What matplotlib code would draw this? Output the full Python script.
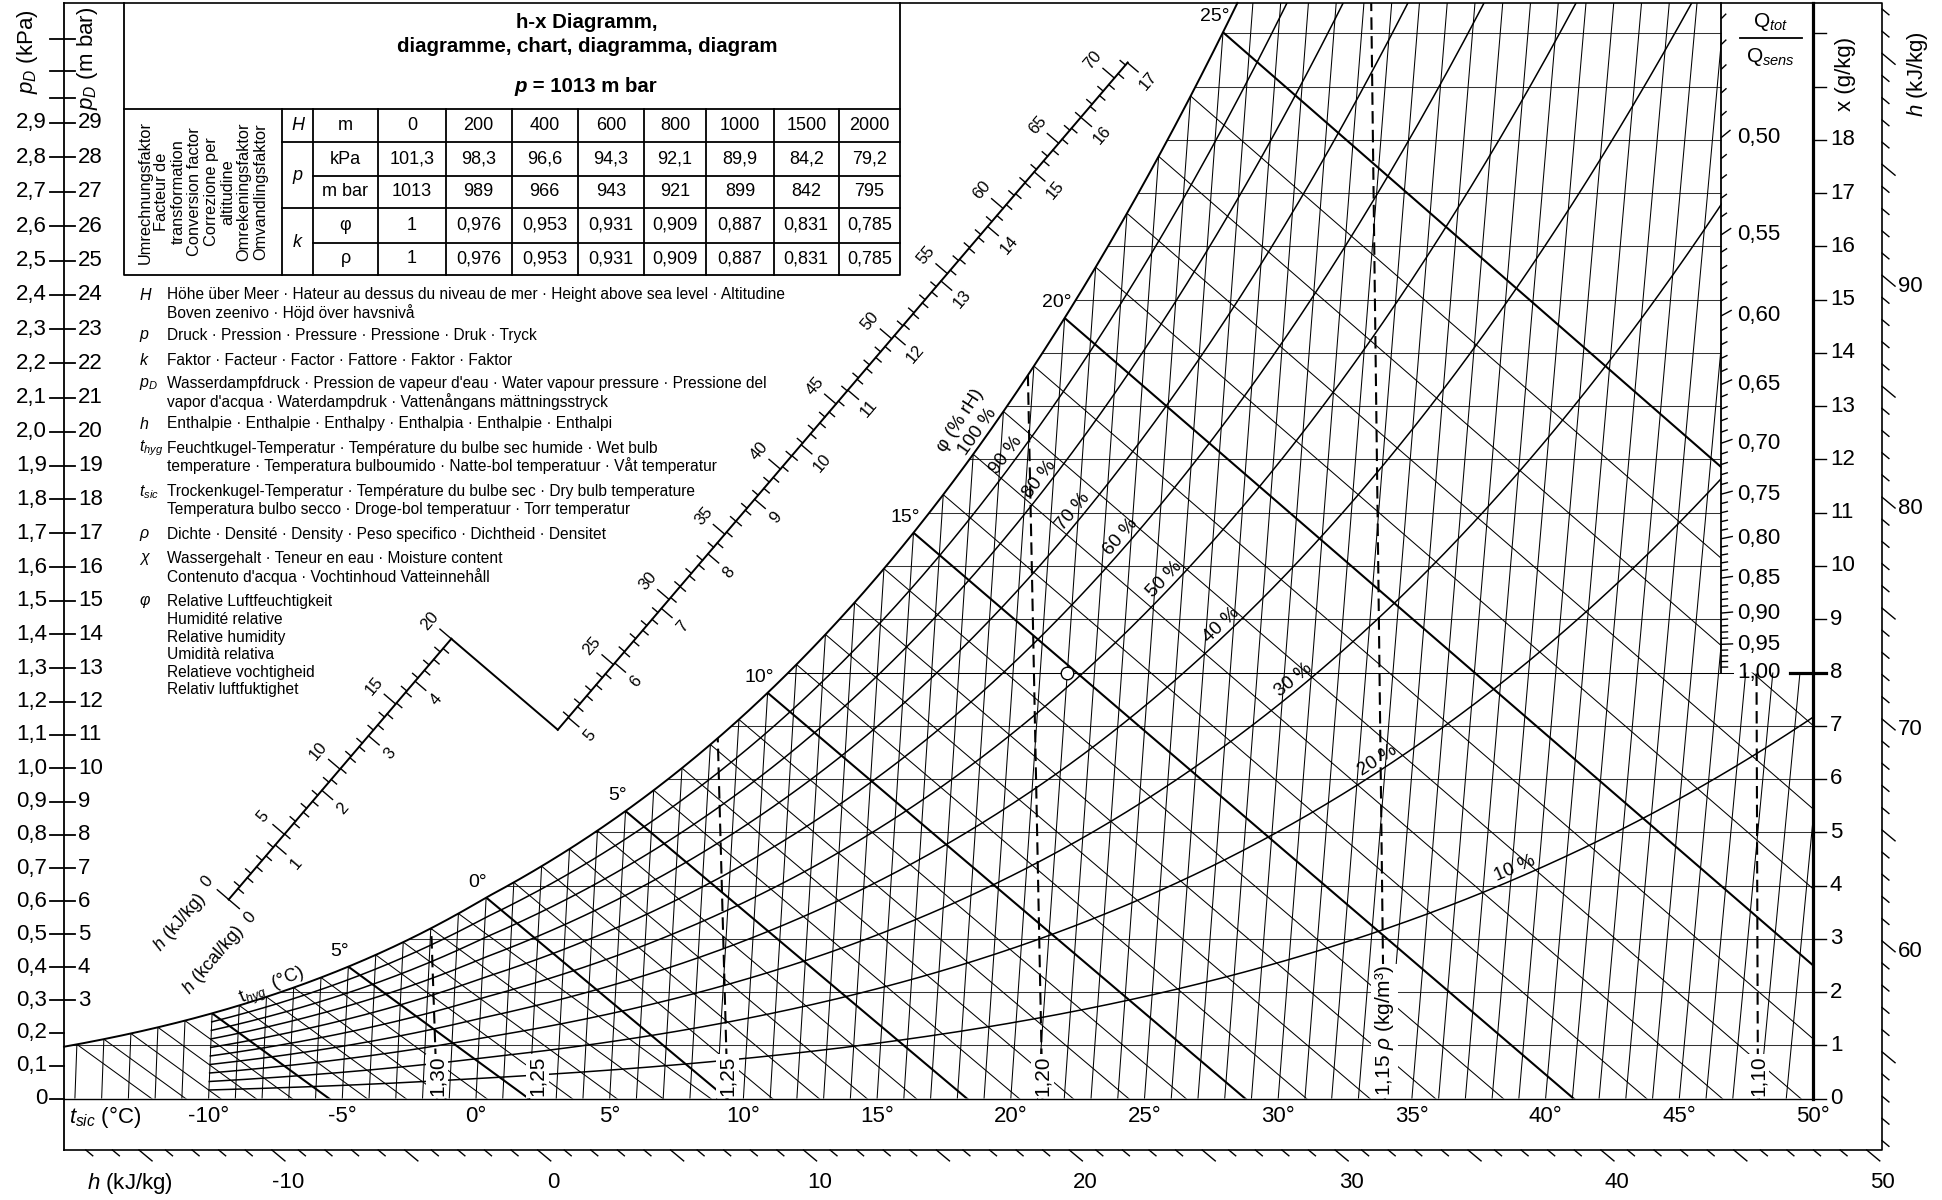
import numpy as np
import matplotlib
matplotlib.use("Agg")
import matplotlib.pyplot as plt
from matplotlib.patches import Polygon
from matplotlib import font_manager


def font_ok(name):
    try:
        font_manager.findfont(font_manager.FontProperties(family=name),
                              fallback_to_default=False)
        return True
    except Exception:
        return False


SANS = "Liberation Sans" if font_ok("Liberation Sans") else "DejaVu Sans"
NARROW = "Liberation Sans Narrow" if font_ok("Liberation Sans Narrow") else SANS

plt.rcParams["font.family"] = [SANS, "DejaVu Sans"]
plt.rcParams["mathtext.fontset"] = "custom"
plt.rcParams["mathtext.rm"] = SANS
plt.rcParams["mathtext.it"] = SANS + ":italic"
plt.rcParams["mathtext.bf"] = SANS + ":bold"

# ---------------- values ----------------
alt_m = ["0", "200", "400", "600", "800", "1000", "1500", "2000"]
alt_p_kpa = ["101,3", "98,3", "96,6", "94,3", "92,1", "89,9", "84,2", "79,2"]
alt_p_mbar = ["1013", "989", "966", "943", "921", "899", "842", "795"]
alt_k_phi = ["1", "0,976", "0,953", "0,931", "0,909", "0,887", "0,831", "0,785"]
alt_k_rho = ["1", "0,976", "0,953", "0,931", "0,909", "0,887", "0,831", "0,785"]

t_dry_lines = list(range(-15, 51))
t_dry_labels = [-10, -5, 0, 5, 10, 15, 20, 25, 30, 35, 40, 45, 50]
t_wet_lines = list(range(-15, 26))
t_wet_labels = [-5, 0, 5, 10, 15, 20, 25]
t_wet_texts = ["5°", "0°", "5°", "10°", "15°", "20°", "25°"]
rh_levels = [10, 20, 30, 40, 50, 60, 70, 80, 90]
rh_label_levels = [10, 20, 30, 40, 50, 60, 70, 80, 90, 100]
rh_label_t = [38.3, 32.9, 29.6, 26.8, 24.6, 22.9, 21.1, 19.8, 18.5, 17.4]
rho_levels = [1.30, 1.25, 1.20, 1.15, 1.10]
rho_texts = ["1,30", "1,25", "1,20", "1,15 $\\rho$ (kg/m³)", "1,10"]
rho_extra_text, rho_extra_X = "1,25", 2.3
x_grid = list(range(1, 21))
x_labels = list(range(0, 19))
x_ticks_extra = [19, 20]
pd_kpa = [round(0.1 * i, 1) for i in range(0, 30)]
pd_extra_ticks = [2.97, 3.05, 3.14]
h_right_ticks = list(range(51, 103))
h_right_labels = [60, 70, 80, 90]
h_bottom_ticks = list(range(-17, 51))
h_bottom_labels = [-10, 0, 10, 20, 30, 40, 50]
q_ratios = [round(0.45 + 0.01 * i, 2) for i in range(0, 56)]
q_labels = [0.50, 0.55, 0.60, 0.65, 0.70, 0.75, 0.80, 0.85, 0.90, 0.95, 1.00]
q_ref = (22.1, 8.0)
Q_K = 10.05
nomo_kj_labels = [0, 5, 10, 15, 20, 25, 30, 35, 40, 45, 50, 55, 60, 65, 70]
nomo_kcal_labels = list(range(0, 18))

legend_rows = [
    ("$H$", ["Höhe über Meer · Hateur au dessus du niveau de mer · Height above sea level · Altitudine",
             "Boven zeenivo · Höjd över havsnivå"], 294.8),
    ("$p$", ["Druck · Pression · Pressure · Pressione · Druk · Tryck"], 335.6),
    ("$k$", ["Faktor · Facteur · Factor · Fattore · Faktor · Faktor"], 360.4),
    ("$p_D$", ["Wasserdampfdruck · Pression de vapeur d'eau · Water vapour pressure · Pressione del",
               "vapor d'acqua · Waterdampdruk · Vattenångans mättningsstryck"], 383.9),
    ("$h$", ["Enthalpie · Enthalpie · Enthalpy · Enthalpia · Enthalpie · Enthalpi"], 423.6),
    ("$t_{hyg}$", ["Feuchtkugel-Temperatur · Température du bulbe sec humide · Wet bulb",
                   "temperature · Temperatura bulboumido · Natte-bol temperatuur · Våt temperatur"], 448.3),
    ("$t_{sic}$", ["Trockenkugel-Temperatur · Température du bulbe sec · Dry bulb temperature",
                   "Temperatura bulbo secco · Droge-bol temperatuur · Torr temperatur"], 491.7),
    ("$\\rho$", ["Dichte · Densité · Density · Peso specifico · Dichtheid · Densitet"], 535.0),
    ("$\\chi$", ["Wassergehalt · Teneur en eau · Moisture content",
                 "Contenuto d'acqua · Vochtinhoud Vatteinnehåll"], 558.6),
    ("$\\varphi$", ["Relative Luftfeuchtigkeit", "Humidité relative", "Relative humidity",
                    "Umidità relativa", "Relatieve vochtigheid", "Relativ luftfuktighet"], 601.9),
]
factor_title = ("Umrechnungsfaktor\nFacteur de\ntransformation\nConversion factor\n"
                "Correzione per\naltitudine\nOmrekeningsfaktor\nOmvandlingsfaktor")

# ---------------- psychrometrics ----------------
P_ATM = 101325.0
A_OBL = 2.4  # slope used for the oblique abscissa


def p_sat(t):
    t = np.asarray(t, dtype=float)
    water = 611.2 * np.exp(17.62 * t / (243.12 + t))
    ice = 611.2 * np.exp(22.46 * t / (272.62 + t))
    return np.where(t >= 0, water, ice)


def x_moist(t, phi=1.0):
    ps = phi * p_sat(t)
    return 622.0 * ps / (P_ATM - ps)


def X_obl(t, x):
    h = 1.006 * t + x * (2501 + 1.86 * t) / 1000.0
    return (h - A_OBL * x) / 1.006


def wet_bulb(tw):
    xs = x_moist(tw) / 1000.0
    t = np.linspace(tw, tw + 70, 300)
    if tw >= 0:
        x = ((2501 - 2.326 * tw) * xs - 1.006 * (t - tw)) / (2501 + 1.86 * t - 4.186 * tw)
    else:
        x = ((2830 - 0.24 * tw) * xs - 1.006 * (t - tw)) / (2830 + 1.86 * t - 2.1 * tw)
    x = x * 1000.0
    return X_obl(t, x), x


# ---------------- layout (pixels of the 1942x1200 picture) ----------------
W, H = 1942, 1200
X0_PX, SX = 476.0, 26.74
Y0_PX, SY = 1098.5, 53.25
X_LEFT = (64 - X0_PX) / SX
X_RIGHT = (1882 - X0_PX) / SX
X_AXIS = 50.0
X_Q = (1721.5 - X0_PX) / SX
X_TOP = (Y0_PX - 3) / SY
X_BOT = (Y0_PX - 1150) / SY

fig = plt.figure(figsize=(W / 100, H / 100), dpi=100)
ax = fig.add_axes([0, 0, 1, 1])
ax.set_xlim(-X0_PX / SX, (W - X0_PX) / SX)
ax.set_ylim((Y0_PX - H) / SY, Y0_PX / SY)
ax.axis("off")
ax2 = fig.add_axes([0, 0, 1, 1], facecolor="none")
ax2.set_xlim(0, W)
ax2.set_ylim(H, 0)
ax2.axis("off")

K = "black"
THIN = 0.75

# saturation curve and chart region
t_f = np.linspace(-17, 27, 3000)
xs_f = x_moist(t_f)
Xs_f = X_obl(t_f, xs_f)
x_left_sat = np.interp(X_LEFT, Xs_f, xs_f)
X_top_sat = np.interp(X_TOP, xs_f, Xs_f)
m = (Xs_f >= X_LEFT) & (xs_f <= X_TOP)
sat_X = np.concatenate([[X_LEFT], Xs_f[m], [X_top_sat]])
sat_x = np.concatenate([[x_left_sat], xs_f[m], [X_TOP]])
verts = [(X_LEFT, 0), (X_AXIS, 0), (X_AXIS, 8), (X_Q, 8), (X_Q, X_TOP)]
verts += list(zip(sat_X[::-1], sat_x[::-1]))
region = Polygon(verts, closed=True, transform=ax.transData)


def chart_line(X, x, **kw):
    ln, = ax.plot(X, x, **kw)
    ln.set_clip_path(region)
    return ln


# horizontal x-lines
for xg in x_grid:
    if xg == 8:
        X8 = np.interp(8, xs_f, Xs_f)
        ax.plot([X8, X_Q + 12 / SX], [8, 8], color=K, lw=THIN)
    else:
        chart_line([X_LEFT, X_AXIS], [xg, xg], color="#333333", lw=THIN)

# isotherms
for t in t_dry_lines:
    xx = np.array([0.0, 22.0])
    chart_line(X_obl(t, xx), xx, color=K, lw=THIN)

# wet bulb lines
for tw in t_wet_lines:
    Xw, xw = wet_bulb(tw)
    thick = (tw % 5 == 0) and tw >= -10
    chart_line(Xw, xw, color=K, lw=1.5 if thick else THIN)

# relative humidity curves
t_rh = np.linspace(-10, 60, 600)
for lev in rh_levels:
    xx = x_moist(t_rh, lev / 100.0)
    chart_line(X_obl(t_rh, xx), xx, color=K, lw=1.1)
ax.plot(sat_X, sat_x, color=K, lw=1.4)

# density lines
dens_box = dict(boxstyle="square,pad=0.08", fc="white", ec="none")
for rho, txt in zip(rho_levels, rho_texts):
    xx = np.linspace(0, 22, 200)
    T = 353.2 / rho * (1 + xx / 1000) / (1 + 1.608 * xx / 1000) - 273.15
    chart_line(X_obl(T, xx), xx, color=K, lw=1.5, ls=(0, (6, 3)))
    ax.text(X_obl(T[0], 0), 0.04, txt, rotation=90, ha="center", va="bottom",
            fontsize=15, bbox=dens_box, zorder=5)
ax.text(rho_extra_X, 0.04, rho_extra_text, rotation=90, ha="center", va="bottom",
        fontsize=15, bbox=dens_box, zorder=5)

# wet bulb labels
for tw, txt in zip(t_wet_labels, t_wet_texts):
    xs = float(x_moist(tw))
    ax.annotate(txt, (X_obl(tw, xs), xs), xytext=(-6, 11), textcoords="offset points",
                ha="center", va="center", fontsize=14)

# RH labels
for lev, tl in zip(rh_label_levels, rh_label_t):
    x1, x2 = float(x_moist(tl - 0.3, lev / 100)), float(x_moist(tl + 0.3, lev / 100))
    p1 = ax.transData.transform((X_obl(tl - 0.3, x1), x1))
    p2 = ax.transData.transform((X_obl(tl + 0.3, x2), x2))
    ang = np.degrees(np.arctan2(p2[1] - p1[1], p2[0] - p1[0]))
    r = np.radians(ang)
    xl = float(x_moist(tl, lev / 100))
    ax.annotate(f"{lev} %", (X_obl(tl, xl), xl), xytext=(-np.sin(r) * 7, np.cos(r) * 7),
                textcoords="offset points", rotation=ang, rotation_mode="anchor",
                ha="center", va="center", fontsize=13.5)
ax2.text(960, 420, "φ (% rH)", rotation=57, ha="center", va="center", fontsize=13.5)

# frame and axes lines
ax.plot([X_LEFT, X_LEFT], [X_BOT, X_TOP], color=K, lw=1.3)
ax.plot([X_LEFT, X_RIGHT, X_RIGHT, X_LEFT], [X_BOT, X_BOT, X_TOP, X_TOP], color=K, lw=1.2)
ax.plot([X_LEFT, X_AXIS + 13 / SX], [0, 0], color=K, lw=1.0)
ax.plot([X_AXIS, X_AXIS], [0, X_TOP], color=K, lw=2.3)
ax.plot([X_Q, X_Q], [8, X_TOP], color=K, lw=1.3)

# dry bulb labels
for t in t_dry_labels:
    ax.text(t, (Y0_PX - 1117) / SY, f"{t}°", ha="center", va="center", fontsize=16)
ax.text((105 - X0_PX) / SX, (Y0_PX - 1117) / SY, "$t_{sic}$ (°C)", ha="center",
        va="center", fontsize=16)

# left p_D scale
for pd in pd_kpa + pd_extra_ticks:
    xg = 622 * pd / (101.325 - pd)
    ax.plot([X_LEFT - 14 / SX, X_LEFT], [xg, xg], color=K, lw=1.3)
    if pd >= 0.3:
        ax.plot([X_LEFT, X_LEFT + 11 / SX], [xg, xg], color=K, lw=1.3)
    if pd in pd_kpa:
        lab = "0" if pd == 0 else f"{pd:.1f}".replace(".", ",")
        ax.text(X_LEFT - 17 / SX, xg, lab, ha="right", va="center", fontsize=16)
        if pd >= 0.3:
            ax.text(X_LEFT + 14 / SX, xg, f"{int(round(pd * 10))}", ha="left",
                    va="center", fontsize=16)
ax2.text(27, 52, "$p_D$ (kPa)", rotation=90, ha="center", va="center", fontsize=16)
ax2.text(87, 58, "$p_D$ (m bar)", rotation=90, ha="center", va="center", fontsize=16)

# right x scale
for xg in x_labels + x_ticks_extra:
    if xg not in (0, 8):
        ax.plot([X_AXIS, X_AXIS + 13 / SX], [xg, xg], color=K, lw=1.0)
    if xg in x_labels:
        ax.text(X_AXIS + 17 / SX, xg, f"{xg}", ha="left", va="center", fontsize=16)
ax2.text(1845, 74, "x (g/kg)", rotation=90, ha="center", va="center", fontsize=16)

# h scales (ticks parallel to h lines)
uh = np.array([A_OBL / 1.006 * SX, -SY])
uh /= np.hypot(*uh)
for h in h_right_ticks:
    xg = (h - 1.006 * X_RIGHT) / A_OBL
    L = 17 if h % 5 == 0 else 9
    ax.plot([X_RIGHT, X_RIGHT + L * uh[0] / SX], [xg, xg + L * uh[1] / SY], color=K, lw=1.0)
    if h in h_right_labels:
        ax.text(X_RIGHT + (L * uh[0] + 3) / SX, xg + L * uh[1] / SY, f"{h}", ha="left",
                va="center", fontsize=16)
for h in h_bottom_ticks:
    Xb = (h - A_OBL * X_BOT) / 1.006
    L = 17 if h % 5 == 0 else 9
    ax.plot([Xb, Xb + L * uh[0] / SX], [X_BOT, X_BOT + L * uh[1] / SY], color=K, lw=1.0)
    if h in h_bottom_labels:
        ax.text(Xb + 16 / SX, X_BOT - 33 / SY, f"{h}", ha="center", va="center", fontsize=16)
ax2.text(130, 1183, "$h$ (kJ/kg)", ha="center", va="center", fontsize=16)
ax2.text(1917, 74, "$h$ (kJ/kg)", rotation=90, ha="center", va="center", fontsize=16)

# Q_tot / Q_sens scale with reference point
ax.plot(*q_ref, "o", ms=9, mfc="white", mec=K, mew=1.0, zorder=6)
for r in q_ratios:
    xq = q_ref[1] + Q_K * (1 / r - 1)
    if xq > X_TOP:
        continue
    v = np.array([(X_Q - q_ref[0]) * SX, (xq - q_ref[1]) * SY])
    v /= np.hypot(*v)
    major = any(abs(r - q) < 1e-6 for q in q_labels)
    L = 11 if major else 6
    if r < 0.995:
        ax.plot([X_Q, X_Q + L * v[0] / SX], [xq, xq + L * v[1] / SY], color=K, lw=1.0)
    if major:
        ax.text(X_Q + 16 / SX, xq, f"{r:.2f}".replace(".", ","), ha="left", va="center",
                fontsize=16, zorder=6)
ax.plot([(1790 - X0_PX) / SX, X_AXIS + 13 / SX], [8, 8], color=K, lw=2.3)
ax2.text(1771, 22, "Q$_{tot}$", ha="center", va="center", fontsize=15)
ax2.plot([1740, 1802], [38, 38], color=K, lw=1.3)
ax2.text(1771, 57, "Q$_{sens}$", ha="center", va="center", fontsize=15)

# ---------------- table ----------------
cols = [124, 282, 313, 378, 446, 511.5, 578, 644, 706, 774, 838.5, 900]
rows = [109, 142.4, 175.9, 208, 242.7, 275]
tk = dict(color=K, lw=1.3)
ax2.plot([124, 124, 900, 900], [3, 275, 275, 3], **tk)
ax2.plot([124, 900], [109, 109], **tk)
for c in cols[1:-1]:
    ax2.plot([c, c], [109, 275], **tk)
for yy, x0 in [(142.4, 282), (175.9, 313), (208, 282), (242.7, 313)]:
    ax2.plot([x0, 900], [yy, yy], **tk)
ax2.text(587, 22, "h-x Diagramm,", ha="center", va="center", fontsize=14.7, fontweight="bold")
ax2.text(587, 47, "diagramme, chart, diagramma, diagram", ha="center", va="center",
         fontsize=14.7, fontweight="bold")
ax2.text(527, 87, "p", ha="right", va="center", fontsize=14.7, fontweight="bold", style="italic")
ax2.text(527, 87, " = 1013 m bar", ha="left", va="center", fontsize=14.7, fontweight="bold")
ax2.text(203, 192, factor_title, rotation=90, ha="center", va="center", fontsize=11.8,
         multialignment="center", linespacing=1.12)
cx = [(cols[i] + cols[i + 1]) / 2 for i in range(len(cols) - 1)]
cy = [(rows[i] + rows[i + 1]) / 2 for i in range(len(rows) - 1)]
tf = dict(ha="center", va="center", fontsize=13, family=NARROW)
ax2.text(cx[1], cy[0], "H", style="italic", **tf)
ax2.text(cx[1], rows[2], "p", style="italic", **tf)
ax2.text(cx[1], rows[4], "k", style="italic", **tf)
for j, lab in enumerate(["m", "kPa", "m bar", "φ", "ρ"]):
    ax2.text(cx[2], cy[j], lab, **tf)
for j, vals in enumerate([alt_m, alt_p_kpa, alt_p_mbar, alt_k_phi, alt_k_rho]):
    for i, v in enumerate(vals):
        ax2.text(cx[3 + i], cy[j], v, **tf)

# ---------------- legend text ----------------
for sym, lines, y0 in legend_rows:
    ax2.text(139, y0, sym, ha="left", va="center", fontsize=11.5)
    for k, line in enumerate(lines):
        ax2.text(167, y0 + 17.6 * k, line, ha="left", va="center", fontsize=11.2)

# ---------------- enthalpy nomogram ----------------
TH = np.radians(49.5)
U = np.array([np.cos(TH), -np.sin(TH)])
N = np.array([np.sin(TH), np.cos(TH)])
NOMO_O = np.array([228.7, 899.5])
NOMO_S = 17.14
NOMO_D = 140.0


def nomo(h, leg):
    return NOMO_O + h * NOMO_S * U + (NOMO_D * N if leg == 2 else 0)


for leg, h0, h1 in [(1, 0.0, 20.0), (2, 20.0, 71.2)]:
    a, b = nomo(h0, leg), nomo(h1, leg)
    ax2.plot([a[0], b[0]], [a[1], b[1]], color=K, lw=1.4)
c1, c2 = nomo(20, 1), nomo(20, 2)
ax2.plot([c1[0], c2[0]], [c1[1], c2[1]], color=K, lw=1.4)
for hk in range(0, 72):
    if hk > 71.2:
        continue
    leg = 1 if hk <= 20 else 2
    p = nomo(hk, leg)
    L = 15 if hk % 5 == 0 else 7
    q = p - L * N
    ax2.plot([p[0], q[0]], [p[1], q[1]], color=K, lw=1.0)
    if hk in nomo_kj_labels:
        s = p - 28 * N
        ax2.text(s[0], s[1], f"{hk}", rotation=49.5, ha="center", va="center", fontsize=12)
for i in range(0, 86):
    kc = i * 0.2
    hk = kc * 4.1868
    if 20 < hk < 20.9 or hk > 71.3:
        continue
    leg = 1 if hk <= 20 else 2
    p = nomo(hk, leg)
    major = abs(kc - round(kc)) < 1e-6
    L = 14 if major else 7
    q = p + L * N
    ax2.plot([p[0], q[0]], [p[1], q[1]], color=K, lw=1.0)
    if major and int(round(kc)) in nomo_kcal_labels:
        s = p + 28 * N
        ax2.text(s[0], s[1], f"{int(round(kc))}", rotation=49.5, ha="center", va="center",
                 fontsize=12)
ax2.text(180, 923, "$h$ (kJ/kg)", rotation=49.5, ha="center", va="center", fontsize=13)
ax2.text(213, 960, "$h$ (kcal/kg)", rotation=49.5, ha="center", va="center", fontsize=13)
ax2.text(272, 987, "t$_{hyg}$  (°C)", rotation=23, ha="center", va="center", fontsize=13)

fig.savefig("out.png", dpi=100)
